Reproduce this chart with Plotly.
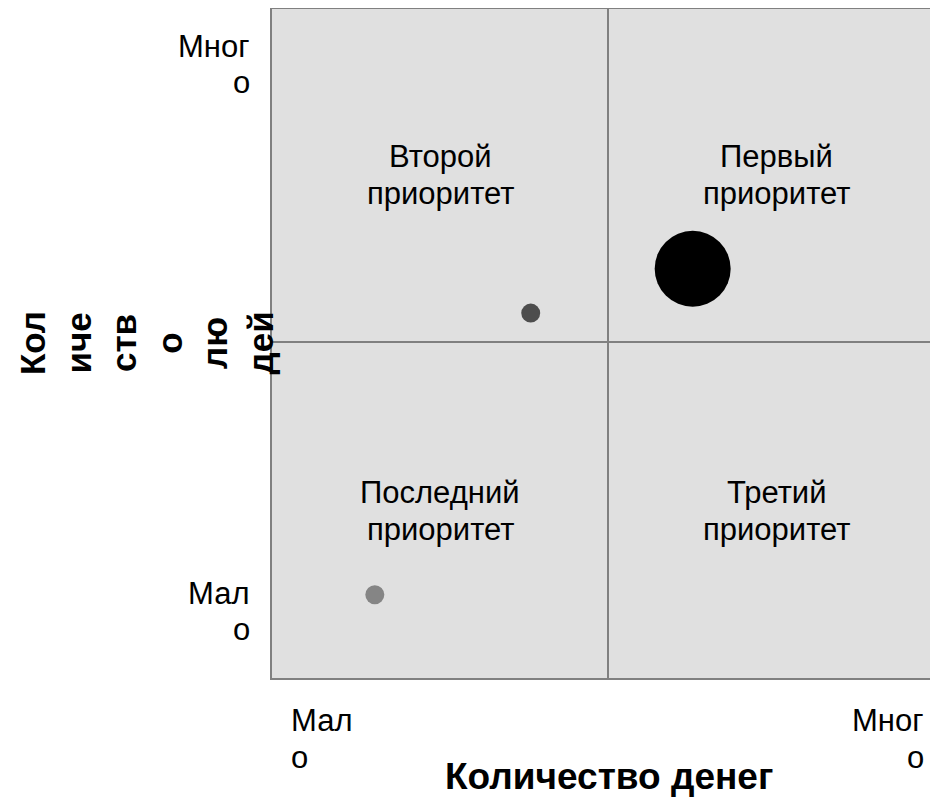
import plotly.graph_objects as go

# ---- data ----
point_x = [1.53, 3.85, 6.26]
point_y = [1.24, 5.43, 6.09]
point_size = [19, 19, 76]
point_color = ["#858585", "#4d4d4d", "#000000"]

quadrant_labels = ["Второй<br>приоритет", "Первый<br>приоритет",
                   "Последний<br>приоритет", "Третий<br>приоритет"]
quadrant_x = [2.5, 7.5, 2.5, 7.5]
quadrant_y = [7.5, 7.5, 2.5, 2.5]

x_tick_labels = ["Мал<br>о", "Мног<br>о"]
y_tick_labels = ["Мног<br>о", "Мал<br>о"]
x_title = "Количество денег"
y_title = "Кол<br>иче<br>ств<br>о<br>лю<br>дей"

# ---- geometry (page pixels; the page adds an 8px body margin) ----
BODY = 8
W, H = 938 - BODY, 804 - BODY
L, T, B = 272, 9, 678            # plot area edges on the page
R = 938
PX_PER_UNIT = 67.2
x_max = (R - L) / PX_PER_UNIT
y_max = (B - T) / PX_PER_UNIT

def paper_x(px):
    return (px - L) / (R - L)

def paper_y(py):
    return (B - py) / (B - T)

FONT = "Liberation Sans, Arial, sans-serif"
SIZE = 31
LINE = 36.3        # line spacing of the wrapped labels
BASE = 0.38        # baseline offset from a single-line box centre (em)

annotations = []

def add_lines(text, first_baseline, line_px, size, **kw):
    """Add a wrapped label line by line; first_baseline is a page y."""
    for i, line in enumerate(text.split("<br>")):
        base = first_baseline + i * line_px
        centre = base - BASE * size
        annotations.append(dict(text=line, showarrow=False, yref="paper",
                                y=paper_y(centre), yanchor="middle",
                                font=dict(family=FONT, size=size, color="#000000"),
                                **kw))

def add_lines_data(text, xd, yd, first_off, line_px, size):
    """Wrapped label centred on a data point; offsets in pixels below it."""
    for i, line in enumerate(text.split("<br>")):
        off = first_off + i * line_px - BASE * size
        annotations.append(dict(text=line, showarrow=False, x=xd, y=yd,
                                xref="x", yref="y", xanchor="center", yanchor="middle",
                                yshift=-off,
                                font=dict(family=FONT, size=size, color="#000000")))

# quadrant labels
for t, x, y in zip(quadrant_labels, quadrant_x, quadrant_y):
    add_lines_data(t, x, y, -5.5, LINE, SIZE)

# x tick labels
add_lines(x_tick_labels[0], 732.5, LINE, SIZE, x=paper_x(289), xref="paper", xanchor="left")
add_lines(x_tick_labels[1], 732.5, LINE, SIZE, x=paper_x(926), xref="paper", xanchor="right")
# y tick labels
add_lines(y_tick_labels[0], 58, LINE, SIZE, x=paper_x(252), xref="paper", xanchor="right")
add_lines(y_tick_labels[1], 605, LINE, SIZE, x=paper_x(252), xref="paper", xanchor="right")

# axis titles
TITLE = 37
annotations.append(dict(x=paper_x(609), y=paper_y(791 - BASE * TITLE), xref="paper", yref="paper",
                        text=x_title, showarrow=False, xanchor="center", yanchor="middle",
                        font=dict(family=FONT, size=TITLE, color="#000000", weight="bold")))
annotations.append(dict(x=paper_x(146), y=paper_y(343), xref="paper", yref="paper",
                        text=y_title, showarrow=False, textangle=-90, align="center",
                        xanchor="center", yanchor="middle",
                        font=dict(family=FONT, size=35, color="#000000", weight="bold")))

fig = go.Figure()
fig.add_trace(go.Scatter(
    x=point_x, y=point_y, mode="markers",
    marker=dict(size=point_size, color=point_color, opacity=1, line=dict(width=0)),
    hoverinfo="skip", showlegend=False, cliponaxis=False,
))

fig.update_layout(
    width=W, height=H,
    margin=dict(l=L - BODY, r=0, t=T - BODY, b=H - (B - BODY), pad=0),
    paper_bgcolor="white", plot_bgcolor="#e0e0e0",
    annotations=annotations,
    xaxis=dict(range=[0, x_max], tickvals=[5], showticklabels=False, ticks="",
               showgrid=True, gridcolor="#808080", gridwidth=1.5, zeroline=False,
               showline=True, linecolor="#808080", linewidth=2, mirror=True, fixedrange=True),
    yaxis=dict(range=[0, y_max], tickvals=[5], showticklabels=False, ticks="",
               showgrid=True, gridcolor="#808080", gridwidth=1.5, zeroline=False,
               showline=True, linecolor="#808080", linewidth=2, mirror=False, fixedrange=True),
)

fig.write_html("out.html", config={"displayModeBar": False})
